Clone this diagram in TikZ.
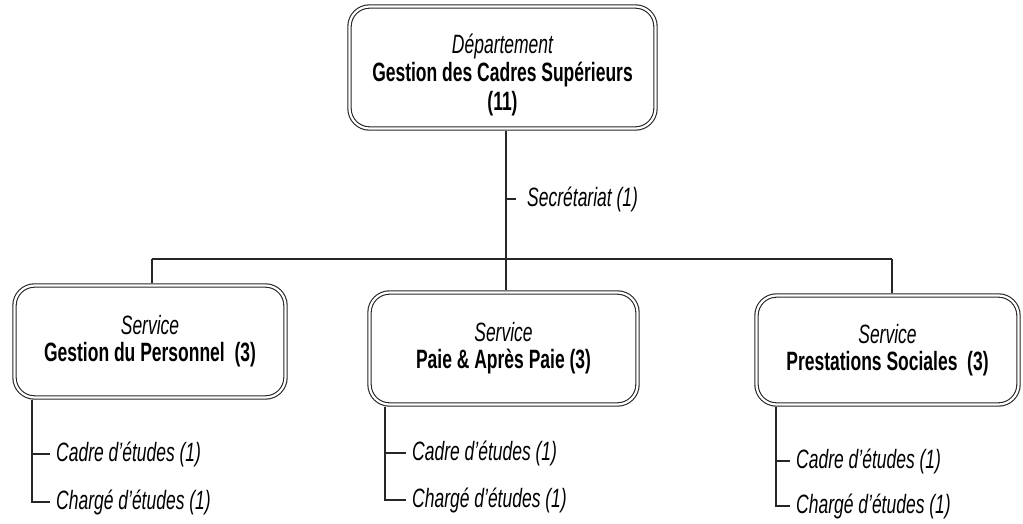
\documentclass[tikz,border=0pt]{standalone}
\usepackage{fontspec}
\setmainfont[FakeStretch=0.66]{Liberation Sans}
\begin{document}
\begin{tikzpicture}[x=1pt,y=-1pt,
  unitbox/.style={draw=black!85, double, double distance=2.2pt, line width=1.1pt,
    rounded corners=20pt, outer sep=2.2pt, align=center, inner sep=0pt,
    font=\fontsize{26.5}{27}\selectfont},
  linkline/.style={draw=black!85, line width=1.2pt},
  item/.style={anchor=west, inner sep=6pt, font=\fontsize{26.5}{28}\selectfont\itshape},
]
\useasboundingbox (0,0) rectangle (1023,524);

% department (the strut lowers the three lines a little inside the box)
\node[unitbox, minimum width=306pt, minimum height=122pt, font=\fontsize{26.5}{28.5}\selectfont] (dep) at (502.5,67.5)
  {\rule{0pt}{34pt}{\itshape Département}\\\textbf{Gestion des Cadres Supérieurs}\\\textbf{(11)}};

% services
\node[unitbox, minimum width=271pt, minimum height=112pt] (gp) at (150,341.5)
  {{\itshape Service}\\\textbf{Gestion du Personnel\ \ (3)}};
\node[unitbox, minimum width=268pt, minimum height=112pt] (pap) at (503.5,348.5)
  {{\itshape Service}\\\textbf{Paie \& Après Paie (3)}};
\node[unitbox, minimum width=262pt, minimum height=109pt] (ps) at (887.5,350)
  {{\itshape Service}\\\textbf{Prestations Sociales\ \ (3)}};

% bus
\coordinate (trunk) at (506,259);
\coordinate (busL) at (152,259);
\coordinate (busR) at (892,259);
\draw[linkline] (dep.south -| trunk) -- (trunk);
\draw[linkline] (busL) -- (busR);
\draw[linkline] (busL) -- (gp.north -| busL);
\draw[linkline] (trunk) -- (pap.north -| trunk);
\draw[linkline] (busR) -- (ps.north -| busR);

% secretariat
\node[item, inner xsep=11pt] (sec) at (516,199) {Secrétariat (1)};
\draw[linkline] (sec.west -| trunk) -- (sec.west);

% sub-items, left
\coordinate (gpT) at (32,0);
\node[item] (gpa) at (50,454) {Cadre d'études (1)};
\node[item] (gpb) at (50,502) {Chargé d'études (1)};
\draw[linkline] (gp.south -| gpT) |- (gpb.west);
\draw[linkline] (gpa.west -| gpT) -- (gpa.west);

% sub-items, middle
\coordinate (papT) at (385,0);
\node[item] (papa) at (406,453) {Cadre d'études (1)};
\node[item] (papb) at (406,500) {Chargé d'études (1)};
\draw[linkline] (pap.south -| papT) |- (papb.west);
\draw[linkline] (papa.west -| papT) -- (papa.west);

% sub-items, right
\coordinate (psT) at (776,0);
\node[item] (psa) at (790,461) {Cadre d'études (1)};
\node[item] (psb) at (790,506) {Chargé d'études (1)};
\draw[linkline] (ps.south -| psT) |- (psb.west);
\draw[linkline] (psa.west -| psT) -- (psa.west);
\end{tikzpicture}
\end{document}
